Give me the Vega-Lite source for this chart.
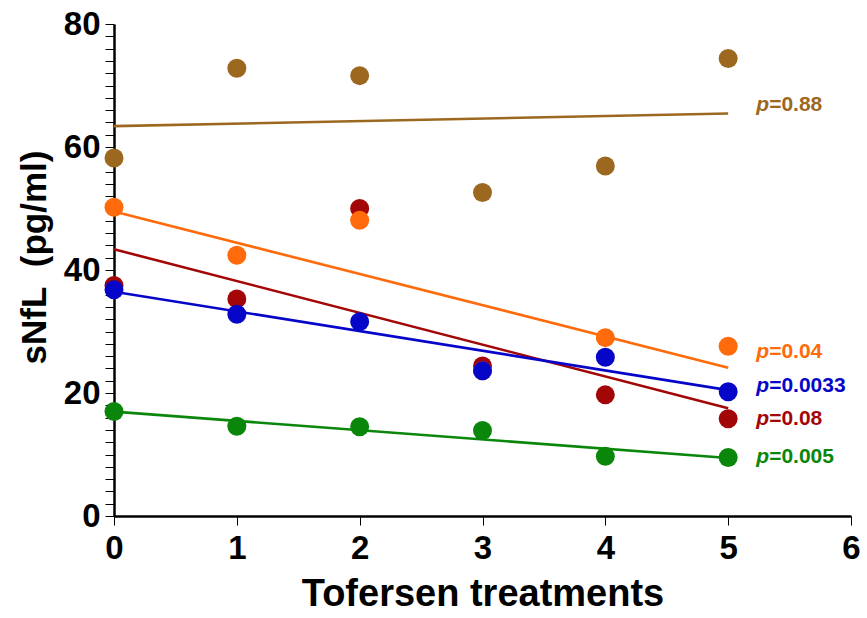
{
  "$schema": "https://vega.github.io/schema/vega-lite/v6.json",
  "width": 737,
  "height": 492,
  "autosize": {"type": "none"},
  "padding": {"left": 114, "top": 24, "right": 16, "bottom": 102},
  "background": "white",
  "config": {"view": {"stroke": null}, "font": "Liberation Sans"},
  "datasets": {
    "pts": [
      {"series": "brown", "x": 0, "y": 58.2},
      {"series": "brown", "x": 1, "y": 72.8},
      {"series": "brown", "x": 2, "y": 71.6},
      {"series": "brown", "x": 3, "y": 52.6},
      {"series": "brown", "x": 4, "y": 56.9},
      {"series": "brown", "x": 5, "y": 74.4},
      {"series": "darkred", "x": 0, "y": 37.5},
      {"series": "darkred", "x": 1, "y": 35.3},
      {"series": "darkred", "x": 2, "y": 50.0},
      {"series": "darkred", "x": 3, "y": 24.4},
      {"series": "darkred", "x": 4, "y": 19.7},
      {"series": "darkred", "x": 5, "y": 15.8},
      {"series": "orange", "x": 0, "y": 50.2},
      {"series": "orange", "x": 1, "y": 42.4},
      {"series": "orange", "x": 2, "y": 48.1},
      {"series": "orange", "x": 3, "y": 23.6},
      {"series": "orange", "x": 4, "y": 29.0},
      {"series": "orange", "x": 5, "y": 27.6},
      {"series": "blue", "x": 0, "y": 36.8},
      {"series": "blue", "x": 1, "y": 32.8},
      {"series": "blue", "x": 2, "y": 31.6},
      {"series": "blue", "x": 3, "y": 23.6},
      {"series": "blue", "x": 4, "y": 25.8},
      {"series": "blue", "x": 5, "y": 20.2},
      {"series": "green", "x": 0, "y": 17.0},
      {"series": "green", "x": 1, "y": 14.6},
      {"series": "green", "x": 2, "y": 14.5},
      {"series": "green", "x": 3, "y": 13.9},
      {"series": "green", "x": 4, "y": 9.7},
      {"series": "green", "x": 5, "y": 9.5}
    ],
    "labels": [
      {"series": "brown", "x": 5, "y": 66.8, "p": "=0.88"},
      {"series": "orange", "x": 5, "y": 26.7, "p": "=0.04"},
      {"series": "blue", "x": 5, "y": 21.1, "p": "=0.0033"},
      {"series": "darkred", "x": 5, "y": 15.8, "p": "=0.08"},
      {"series": "green", "x": 5, "y": 9.6, "p": "=0.005"}
    ]
  },
  "encoding": {
    "x": {
      "field": "x",
      "type": "quantitative",
      "scale": {"domain": [0, 6], "nice": false, "zero": false},
      "axis": {
        "title": "Tofersen treatments",
        "values": [0, 1, 2, 3, 4, 5, 6],
        "format": "d",
        "grid": false,
        "domainColor": "black",
        "domainWidth": 2.5,
        "tickColor": "#000000",
        "tickOpacity": 1,
        "tickSize": 9,
        "labelFont": "Liberation Sans",
        "labelFontSize": 33,
        "labelFontWeight": "bold",
        "labelColor": "black",
        "labelPadding": 7,
        "labelFlush": false,
        "titleFont": "Liberation Sans",
        "titleFontSize": 38,
        "titleFontWeight": "bold",
        "titleColor": "black",
        "titlePadding": 10
      }
    },
    "y": {
      "field": "y",
      "type": "quantitative",
      "scale": {"domain": [0, 80], "nice": false},
      "axis": {
        "title": "sNfL\u00a0\u00a0(pg/ml)",
        "values": [0, 2, 4, 6, 8, 10, 12, 14, 16, 18, 20, 22, 24, 26, 28, 30, 32, 34, 36, 38, 40, 42, 44, 46, 48, 50, 52, 54, 56, 58, 60, 62, 64, 66, 68, 70, 72, 74, 76, 78, 80],
        "labelExpr": "datum.value % 20 === 0 ? datum.label : ''",
        "format": "d",
        "grid": false,
        "domainColor": "black",
        "domainWidth": 2.5,
        "tickColor": "#000000",
        "tickOpacity": 1,
        "tickSize": 9,
        "labelFont": "Liberation Sans",
        "labelFontSize": 33,
        "labelFontWeight": "bold",
        "labelColor": "black",
        "labelPadding": 5,
        "labelFlush": false,
        "labelOverlap": false,
        "titleFont": "Liberation Sans",
        "titleFontSize": 35,
        "titleFontWeight": "bold",
        "titleColor": "black",
        "titleAngle": -90,
        "titleAlign": "center",
        "titleBaseline": "bottom",
        "titleX": -62,
        "titleY": 233
      }
    },
    "color": {
      "field": "series",
      "type": "nominal",
      "legend": null,
      "scale": {
        "domain": ["brown", "darkred", "orange", "blue", "green"],
        "range": ["#9C671F", "#A30606", "#FF6A0A", "#0606C8", "#0A860A"]
      }
    }
  },
  "layer": [
    {
      "data": {"name": "pts"},
      "transform": [{"regression": "y", "on": "x", "groupby": ["series"], "extent": [0, 5]}],
      "mark": {"type": "line", "strokeWidth": 2.6}
    },
    {
      "data": {"name": "pts"},
      "mark": {"type": "circle", "size": 360, "opacity": 1}
    },
    {
      "data": {"name": "labels"},
      "mark": {"type": "text", "text": "p", "font": "Liberation Sans", "fontStyle": "italic", "fontWeight": "bold", "fontSize": 21, "align": "left", "baseline": "middle", "dx": 28}
    },
    {
      "data": {"name": "labels"},
      "mark": {"type": "text", "font": "Liberation Sans", "fontWeight": "bold", "fontSize": 21, "align": "left", "baseline": "middle", "dx": 41},
      "encoding": {"text": {"field": "p", "type": "nominal"}}
    }
  ]
}
